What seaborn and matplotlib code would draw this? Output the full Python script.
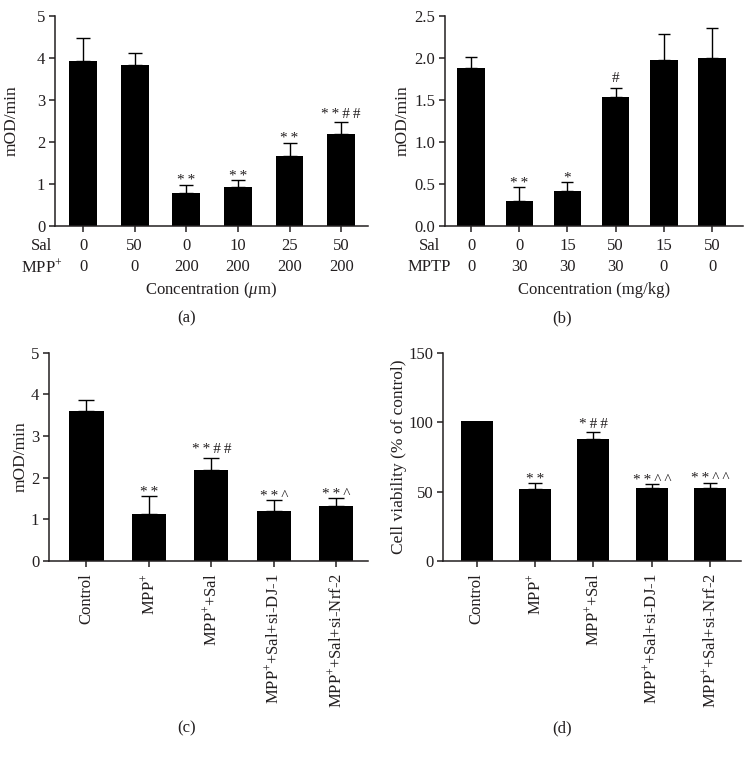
import numpy as np
import pandas as pd
import matplotlib
matplotlib.use("Agg")
import matplotlib.pyplot as plt
import seaborn as sns

# ---------------- data ----------------
a_sal = [0, 50, 0, 10, 25, 50]
a_mpp = [0, 0, 200, 200, 200, 200]
a_mean = [3.92, 3.83, 0.79, 0.93, 1.65, 2.19]
a_err = [0.56, 0.28, 0.19, 0.16, 0.33, 0.28]
a_sig = ["", "", "**", "**", "**", "**##"]

b_sal = [0, 0, 15, 50, 15, 50]
b_mptp = [0, 30, 30, 30, 0, 0]
b_mean = [1.876, 0.298, 0.409, 1.53, 1.97, 2.003]
b_err = [0.14, 0.16, 0.116, 0.107, 0.32, 0.354]
b_sig = ["", "**", "*", "#", "", ""]

cd_groups = ["Control", "MPP$^{+}$", "MPP$^{+}$+Sal",
             "MPP$^{+}$+Sal+si-DJ-1", "MPP$^{+}$+Sal+si-Nrf-2"]
c_mean = [3.60, 1.12, 2.18, 1.21, 1.33]
c_err = [0.27, 0.43, 0.30, 0.26, 0.18]
c_sig = ["", "**", "**##", "**^", "**^"]

d_mean = [100.9, 51.6, 87.5, 52.5, 52.5]
d_err = [0.0, 4.3, 5.1, 2.7, 3.9]
d_sig = ["", "**", "*##", "**^^", "**^^"]

# ---------------- style ----------------
sns.set_theme(style="ticks")
TXT = "#231f20"
plt.rcParams["font.family"] = ["Liberation Serif", "DejaVu Serif"]
plt.rcParams["mathtext.fontset"] = "custom"
plt.rcParams["mathtext.rm"] = "Liberation Serif"
plt.rcParams["mathtext.it"] = "Liberation Serif:italic"
plt.rcParams["font.size"] = 12
plt.rcParams["text.color"] = TXT
plt.rcParams["axes.labelcolor"] = TXT
plt.rcParams["xtick.color"] = TXT
plt.rcParams["ytick.color"] = TXT
plt.rcParams["axes.edgecolor"] = TXT

fig = plt.figure(figsize=(7.51, 7.62), dpi=100)
W, H = 751.0, 762.0
THIN = "\u2009"


def add_ax(x0, x1, ytop, ybot):
    return fig.add_axes([x0 / W, 1 - ybot / H, (x1 - x0) / W, (ybot - ytop) / H])


def style_ax(ax, ylim, yticks, ylabel, xlim, labx):
    ax.set_ylim(*ylim)
    ax.set_yticks(yticks)
    ax.set_xlim(*xlim)
    for s in ["top", "right"]:
        ax.spines[s].set_visible(False)
    for s in ["left", "bottom"]:
        ax.spines[s].set_linewidth(1.1)
    ax.tick_params(axis="both", length=4, width=1.1, labelsize=12, pad=3)
    ax.set_ylabel(ylabel, fontsize=12.5, va="center")
    ax.yaxis.set_label_coords(labx, 0.5)
    ax.set_xlabel("")


def bars(ax, names, mean, err, sig, width, capsize):
    df = pd.DataFrame({"g": names, "v": mean})
    sns.barplot(data=df, x="g", y="v", order=names, color="black",
                saturation=1, width=width, errorbar=None, ax=ax, edgecolor="none")
    xs = np.arange(len(names))
    m = np.array(mean)
    e = np.array(err)
    has = e > 0
    ax.errorbar(xs[has], m[has], yerr=[np.zeros(has.sum()), e[has]], fmt="none",
                ecolor="black", elinewidth=1.0, capsize=capsize, capthick=1.0)
    for x, y, s in zip(xs, m + e, sig):
        if s:
            if "*" not in s:
                off = 2.5
            elif "#" in s:
                off = 1.0
            else:
                off = -2.0
            ax.annotate(THIN.join(s), xy=(x, y), xytext=(0, off),
                        textcoords="offset points",
                        ha="center", va="bottom", fontsize=11)


# ---------- (a) ----------
axa = add_ax(55, 368, 16, 225.7)
a_names = [f"{s}|{m}" for s, m in zip(a_sal, a_mpp)]
bars(axa, a_names, a_mean, a_err, a_sig, 0.54, 4.7)
style_ax(axa, (0, 5), range(0, 6), "mOD/min", (-0.543, 5.52), -0.137)
axa.set_xticklabels([str(s) for s in a_sal])
axa.tick_params(axis="x", pad=5)
tr = axa.get_xaxis_transform()
for i, m in enumerate(a_mpp):
    axa.annotate(str(m), xy=(i, 0), xycoords=tr, xytext=(0, -29.9),
                 textcoords="offset points", ha="center", va="center")
axa.annotate("Sal", xy=(0, 0), xycoords="axes fraction", xytext=(-9.4, -14.6),
             textcoords="offset points", ha="center", va="center")
axa.annotate("MPP$^{+}$", xy=(0, 0), xycoords="axes fraction", xytext=(-9.4, -29.9),
             textcoords="offset points", ha="center", va="center")
axa.annotate("Concentration ($\\mathit{\\mu}$m)", xy=(0.5, 0), xycoords="axes fraction",
             xytext=(0, -46), textcoords="offset points", ha="center", va="center",
             fontsize=12)

# ---------- (b) ----------
axb = add_ax(445, 743, 16, 225.7)
b_names = [f"{s}|{m}" for s, m in zip(b_sal, b_mptp)]
bars(axb, b_names, b_mean, b_err, b_sig, 0.57, 4.0)
style_ax(axb, (0, 2.5), [0, 0.5, 1.0, 1.5, 2.0, 2.5], "mOD/min", (-0.54, 5.64), -0.141)
axb.set_yticklabels(["0.0", "0.5", "1.0", "1.5", "2.0", "2.5"])
axb.set_xticklabels([str(s) for s in b_sal])
axb.tick_params(axis="x", pad=5)
tr = axb.get_xaxis_transform()
for i, m in enumerate(b_mptp):
    axb.annotate(str(m), xy=(i, 0), xycoords=tr, xytext=(0, -29.9),
                 textcoords="offset points", ha="center", va="center")
axb.annotate("Sal", xy=(0, 0), xycoords="axes fraction", xytext=(-11.5, -14.6),
             textcoords="offset points", ha="center", va="center")
axb.annotate("MPTP", xy=(0, 0), xycoords="axes fraction", xytext=(-11.5, -29.9),
             textcoords="offset points", ha="center", va="center")
axb.annotate("Concentration (mg/kg)", xy=(0.5, 0), xycoords="axes fraction",
             xytext=(0, -46), textcoords="offset points", ha="center", va="center",
             fontsize=12)

# ---------- (c) ----------
axc = add_ax(49, 368, 352.7, 561)
bars(axc, cd_groups, c_mean, c_err, c_sig, 0.55, 6.0)
style_ax(axc, (0, 5), range(0, 6), "mOD/min", (-0.60, 4.51), -0.088)
axc.set_xticklabels(cd_groups, rotation=90, va="top", ha="center")
axc.tick_params(axis="x", pad=5)

# ---------- (d) ----------
axd = add_ax(443, 741, 352.7, 561)
bars(axd, cd_groups, d_mean, d_err, d_sig, 0.55, 4.8)
style_ax(axd, (0, 150), [0, 50, 100, 150], "Cell viability (% of control)",
         (-0.58, 4.53), -0.146)
axd.set_xticklabels(cd_groups, rotation=90, va="top", ha="center")
axd.tick_params(axis="x", pad=5)

# panel letters
for lab, x, y in [("(a)", 187, 318), ("(b)", 562, 318), ("(c)", 187, 728), ("(d)", 562, 728)]:
    fig.text(x / W, 1 - y / H, lab, ha="center", va="center", fontsize=12)

fig.savefig("out.png", dpi=100)
